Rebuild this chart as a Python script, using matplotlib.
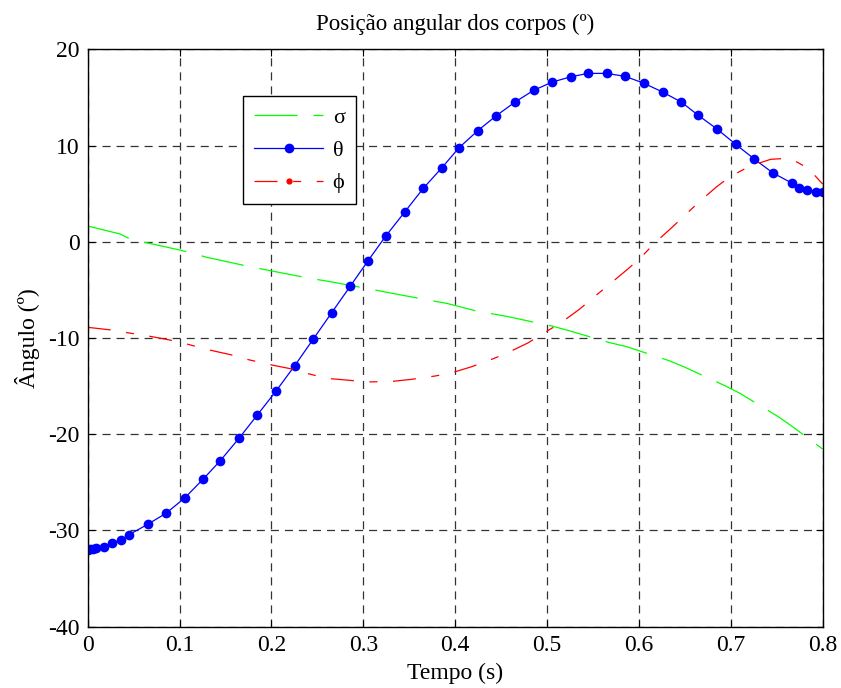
import matplotlib
matplotlib.use('Agg')
import matplotlib.pyplot as plt
from matplotlib.lines import Line2D
from matplotlib.ticker import FuncFormatter, MultipleLocator

# sigma (green) - time (s) and angle (deg)
t_sigma = [0.0, 0.0352, 0.046, 0.0642, 0.1005, 0.1295, 0.1767, 0.1948, 0.242,
           0.2601, 0.3091, 0.3254, 0.3744, 0.3908, 0.4234, 0.4561, 0.505, 0.5214,
           0.5685, 0.5867, 0.633, 0.6494, 0.6944, 0.71, 0.7517, 0.7663, 0.80]
sigma = [1.64, 0.81, 0.3, -0.1, -0.86, -1.61, -2.59, -2.93, -3.8,
         -4.08, -4.94, -5.25, -6.12, -6.4, -7.2, -7.75, -8.75, -9.17,
         -10.49, -10.9, -12.36, -13.01, -14.99, -15.75, -18.18, -19.15, -21.54]

# theta (blue, solver steps shown as dots)
t_theta = [0.0, 0.0025, 0.0061, 0.0087, 0.0174, 0.0264, 0.0359, 0.045, 0.0653,
           0.0856, 0.1058, 0.1258, 0.1443, 0.1647, 0.1846, 0.205, 0.2253, 0.2456,
           0.2657, 0.2859, 0.3053, 0.3247, 0.345, 0.3653, 0.3856, 0.4041, 0.4245,
           0.4447, 0.4651, 0.4854, 0.5057, 0.526, 0.5446, 0.5649, 0.5851, 0.6055,
           0.6258, 0.6461, 0.6646, 0.685, 0.7053, 0.7256, 0.7459, 0.7663, 0.7739,
           0.783, 0.7924, 0.80]
theta = [-32.03, -31.96, -31.9, -31.86, -31.69, -31.3, -30.99, -30.44, -29.36,
         -28.19, -26.6, -24.65, -22.75, -20.42, -18.0, -15.51, -12.88, -10.1,
         -7.35, -4.6, -1.95, 0.63, 3.09, 5.56, 7.7, 9.77, 11.54,
         13.1, 14.52, 15.74, 16.6, 17.15, 17.5, 17.5, 17.19, 16.47,
         15.56, 14.52, 13.14, 11.72, 10.13, 8.6, 7.15, 6.11, 5.59,
         5.38, 5.2, 5.2]

# phi (red)
t_phi = [0.0, 0.0261, 0.0406, 0.066, 0.0896, 0.1078, 0.1313, 0.1549, 0.1731,
         0.1966, 0.2238, 0.2384, 0.2601, 0.2819, 0.3037, 0.3283, 0.3527, 0.378,
         0.3943, 0.418, 0.4415, 0.4571, 0.4796, 0.5002, 0.5152, 0.5351, 0.5547,
         0.5674, 0.5867, 0.6012, 0.6175, 0.6349, 0.6483, 0.6657, 0.6846, 0.6991,
         0.7209, 0.7434, 0.7608, 0.768, 0.7843, 0.80]
phi = [-8.89, -9.17, -9.41, -9.79, -10.21, -10.62, -11.22, -11.72, -12.21,
       -12.73, -13.25, -13.67, -14.19, -14.37, -14.56, -14.54, -14.29, -13.95,
       -13.67, -12.98, -12.15, -11.53, -10.49, -9.27, -8.41, -7.02, -5.46,
       -4.46, -2.93, -1.72, -0.1, 1.4, 2.6, 4.16, 5.72, 6.76,
       7.87, 8.57, 8.67, 8.5, 7.63, 6.0]

labels = ['σ', 'θ', 'ϕ']

plt.rcParams['font.family'] = ['Liberation Serif', 'DejaVu Serif']
plt.rcParams['axes.unicode_minus'] = False
plt.rcParams['lines.scale_dashes'] = False

GREEN = '#00ff00'
BLUE = '#0000ff'
RED = '#ff0000'
LS_SIGMA = (0, (31, 11.5))
LS_PHI = (0, (16.6, 11.2, 5.8, 11.2))
FS = 17


def create_plot():
    fig = plt.figure(figsize=(8.41, 6.88), dpi=100)
    ax = fig.add_axes([0.1043, 0.0891, 0.8739, 0.8392])

    ax.plot(t_sigma, sigma, color=GREEN, lw=0.9, ls=LS_SIGMA)
    ax.plot(t_theta, theta, color=BLUE, lw=0.9, marker='o', markersize=7,
            markeredgewidth=0)
    ax.plot(t_phi, phi, color=RED, lw=0.9, ls=LS_PHI)

    ax.set_xlim(0, 0.8)
    ax.set_ylim(-40, 20)
    ax.xaxis.set_major_locator(MultipleLocator(0.1))
    ax.yaxis.set_major_locator(MultipleLocator(10))
    ax.xaxis.set_major_formatter(FuncFormatter(lambda v, p: f'{v:g}'))
    ax.yaxis.set_major_formatter(FuncFormatter(lambda v, p: f'{v:g}'))
    ax.tick_params(direction='in', length=5, width=0.8, labelsize=FS,
                   top=True, right=True, pad=6)
    for s in ax.spines.values():
        s.set_linewidth(1.0)

    # dashed black grid
    ax.grid(True, color='0.2', lw=0.9, ls=(0, (5.8, 4.3)))
    ax.set_axisbelow(True)

    ax.set_title('Posição angular dos corpos (º)', fontsize=16.5, pad=14)
    ax.set_xlabel('Tempo (s)', fontsize=FS, labelpad=5)
    ax.set_ylabel('Ângulo (º)', fontsize=FS, labelpad=6)

    handles = [
        Line2D([], [], color=GREEN, lw=0.9, ls=LS_SIGMA),
        Line2D([], [], color=BLUE, lw=0.9, marker='o', markersize=7,
               markeredgewidth=0),
        Line2D([], [], color=RED, lw=0.9, ls=LS_PHI, marker='o',
               markersize=4.5, markeredgewidth=0),
    ]
    leg = ax.legend(handles, labels, loc='upper left',
                    bbox_to_anchor=(0.2117, 0.919), borderaxespad=0,
                    fontsize=16, handlelength=3.1, handletextpad=0.42,
                    borderpad=0.5, labelspacing=0.55, fancybox=False,
                    framealpha=1, edgecolor='black')
    leg.get_frame().set_linewidth(1.0)
    return fig


def main():
    fig = create_plot()
    fig.savefig('out.png', dpi=100)


if __name__ == '__main__':
    main()
